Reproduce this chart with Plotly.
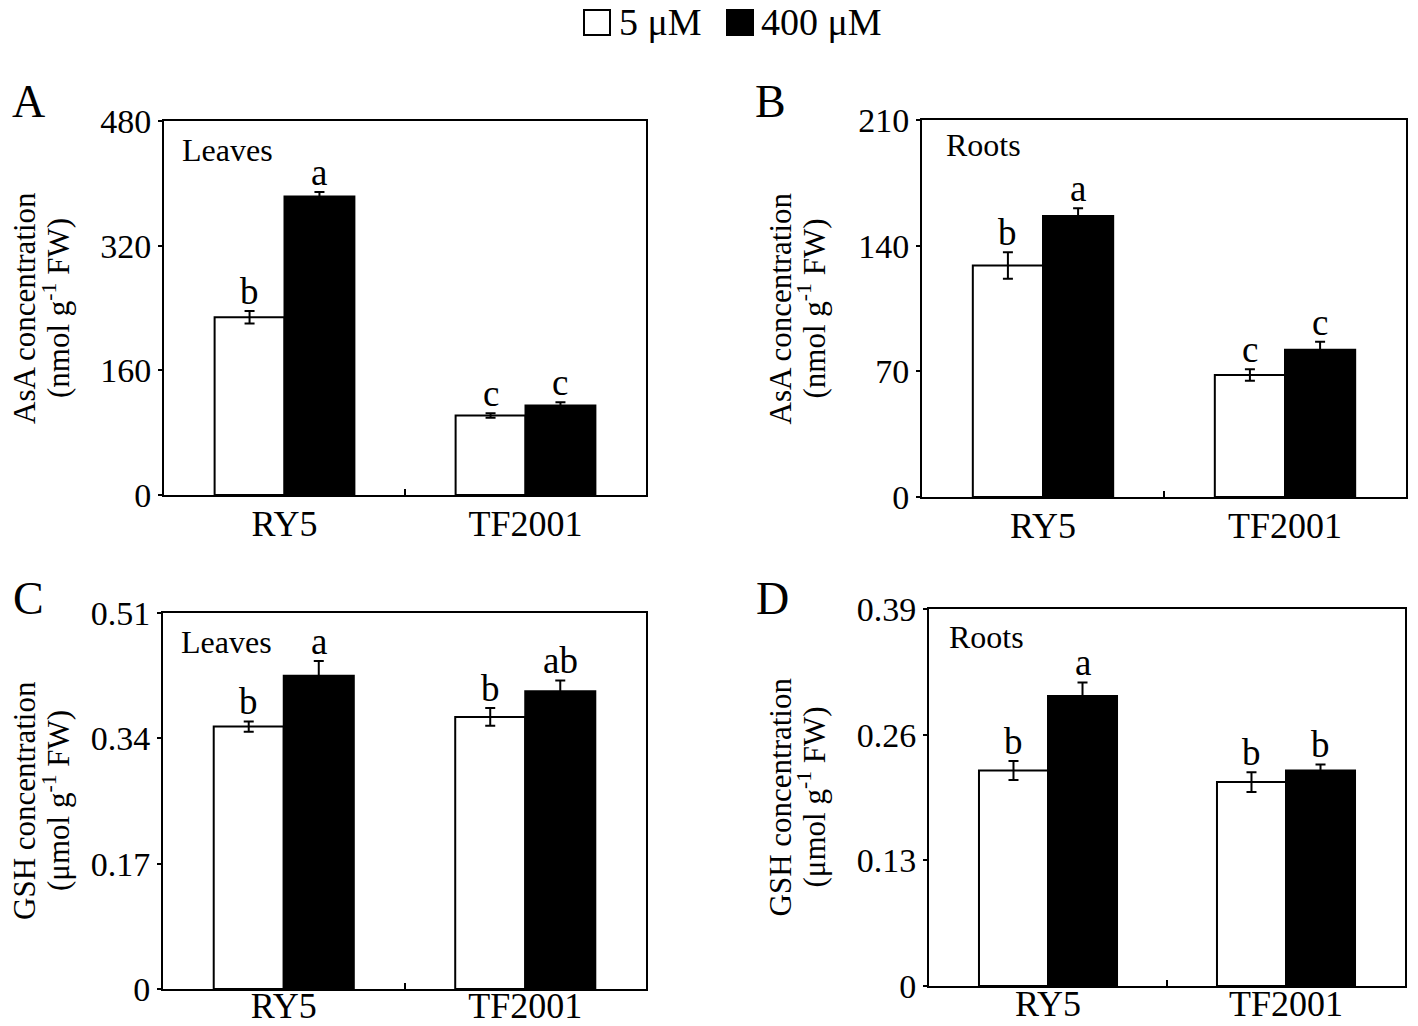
import plotly.graph_objects as go

# page body adds an 8px offset; design in screen pixels and convert
OFF = 8
W, H = 1418 - OFF, 1026 - OFF
FONT = "Liberation Serif"

# ---------------- data ----------------
cultivars = ["RY5", "TF2001"]
series_names = ["5 μM", "400 μM"]

asa_leaves_5 = [228, 102]
asa_leaves_400 = [383, 115]
asa_leaves_err_5 = [8, 3]
asa_leaves_err_400 = [6, 4]
asa_leaves_sig_5 = ["b", "c"]
asa_leaves_sig_400 = ["a", "c"]

asa_roots_5 = [129, 68]
asa_roots_400 = [156.5, 82]
asa_roots_err_5 = [7.4, 3.2]
asa_roots_err_400 = [4.3, 4.5]
asa_roots_sig_5 = ["b", "c"]
asa_roots_sig_400 = ["a", "c"]

gsh_leaves_5 = [0.356, 0.369]
gsh_leaves_400 = [0.425, 0.404]
gsh_leaves_err_5 = [0.007, 0.012]
gsh_leaves_err_400 = [0.020, 0.0145]
gsh_leaves_sig_5 = ["b", "b"]
gsh_leaves_sig_400 = ["a", "ab"]

gsh_roots_5 = [0.223, 0.211]
gsh_roots_400 = [0.300, 0.223]
gsh_roots_err_5 = [0.0098, 0.0102]
gsh_roots_err_400 = [0.014, 0.0062]
gsh_roots_sig_5 = ["b", "b"]
gsh_roots_sig_400 = ["a", "b"]

ticks_A = [0, 160, 320, 480]
ticktext_A = ["0", "160", "320", "480"]
ticks_B = [0, 70, 140, 210]
ticktext_B = ["0", "70", "140", "210"]
ticks_C = [0, 0.17, 0.34, 0.51]
ticktext_C = ["0", "0.17", "0.34", "0.51"]
ticks_D = [0, 0.13, 0.26, 0.39]
ticktext_D = ["0", "0.13", "0.26", "0.39"]

asa_title = ["AsA concentration", "(nmol g<sup>-1</sup> FW)"]
gsh_title = ["GSH concentration", "(μmol g<sup>-1</sup> FW)"]

# ---------------- layout helpers (screen px -> paper) ----------------
def fx(s):
    return (s - OFF) / W

def fy(s):
    return 1 - (s - OFF) / H

def px_dom_x(a, b):
    return [fx(a), fx(b)]

def px_dom_y(top, bottom):
    return [fy(bottom), fy(top)]

panels = [
    dict(key="A", x=px_dom_x(164, 646), y=px_dom_y(121, 495),
         v5=asa_leaves_5, v400=asa_leaves_400, e5=asa_leaves_err_5, e400=asa_leaves_err_400,
         s5=asa_leaves_sig_5, s400=asa_leaves_sig_400, ticks=ticks_A, ticktext=ticktext_A,
         tissue="Leaves", tis_pos=(0.033, 0.922), standoff=-4,
         title=asa_title, title_x=(25, 57), letter_pos=(28, 101)),
    dict(key="B", x=px_dom_x(922, 1406), y=px_dom_y(120, 497),
         v5=asa_roots_5, v400=asa_roots_400, e5=asa_roots_err_5, e400=asa_roots_err_400,
         s5=asa_roots_sig_5, s400=asa_roots_sig_400, ticks=ticks_B, ticktext=ticktext_B,
         tissue="Roots", tis_pos=(0.046, 0.934), standoff=-4,
         title=asa_title, title_x=(780, 812), letter_pos=(771, 101)),
    dict(key="C", x=px_dom_x(163, 646), y=px_dom_y(613, 989),
         v5=gsh_leaves_5, v400=gsh_leaves_400, e5=gsh_leaves_err_5, e400=gsh_leaves_err_400,
         s5=gsh_leaves_sig_5, s400=gsh_leaves_sig_400, ticks=ticks_C, ticktext=ticktext_C,
         tissue="Leaves", tis_pos=(0.033, 0.923), standoff=-16,
         title=gsh_title, title_x=(25, 57), letter_pos=(28, 598)),
    dict(key="D", x=px_dom_x(929, 1405), y=px_dom_y(609, 986),
         v5=gsh_roots_5, v400=gsh_roots_400, e5=gsh_roots_err_5, e400=gsh_roots_err_400,
         s5=gsh_roots_sig_5, s400=gsh_roots_sig_400, ticks=ticks_D, ticktext=ticktext_D,
         tissue="Roots", tis_pos=(0.038, 0.926), standoff=-15,
         title=gsh_title, title_x=(780, 812), letter_pos=(772, 598)),
]

BAR_W = 0.29
fig = go.Figure()
annotations = []
layout = dict(
    template="none",
    width=W, height=H,
    autosize=False,
    margin=dict(l=0, r=0, t=0, b=0, pad=0),
    paper_bgcolor="white", plot_bgcolor="white",
    showlegend=False,
    font=dict(family=FONT, color="black"),
)

xpos = list(range(len(cultivars)))

for i, p in enumerate(panels):
    n = "" if i == 0 else str(i + 1)
    xa, ya = "x" + n, "y" + n
    fig.add_trace(go.Bar(
        x=xpos, y=p["v5"], width=BAR_W, offset=-BAR_W, name=series_names[0],
        marker=dict(color="white", line=dict(color="black", width=2)),
        error_y=dict(type="data", array=p["e5"], visible=True, color="black", thickness=2, width=5),
        xaxis=xa, yaxis=ya,
    ))
    fig.add_trace(go.Bar(
        x=xpos, y=p["v400"], width=BAR_W, offset=0, name=series_names[1],
        marker=dict(color="black", line=dict(color="black", width=2)),
        error_y=dict(type="data", array=p["e400"], visible=True, color="black", thickness=2, width=5),
        xaxis=xa, yaxis=ya,
    ))
    layout["xaxis" + n] = dict(
        domain=p["x"], anchor=ya, range=[-0.5, 1.5], automargin=False,
        tickmode="array", tickvals=xpos, ticktext=cultivars, ticks="",
        ticklabelstandoff=p["standoff"],
        tickfont=dict(family=FONT, size=36, color="black"),
        showline=True, linecolor="black", linewidth=2, mirror=True,
        showgrid=False, zeroline=False, fixedrange=True,
        minor=dict(tickmode="array", tickvals=[0.5], ticks="inside", ticklen=6,
                   tickwidth=2, tickcolor="black", showgrid=False),
    )
    layout["yaxis" + n] = dict(
        domain=p["y"], anchor=xa, range=[0, p["ticks"][-1]], automargin=False,
        tickmode="array", tickvals=p["ticks"], ticktext=p["ticktext"],
        ticks="outside", ticklen=4, tickwidth=1.5, tickcolor="black",
        tickfont=dict(family=FONT, size=34, color="black"),
        showline=True, linecolor="black", linewidth=2, mirror=True,
        showgrid=False, zeroline=False, fixedrange=True,
    )
    # significance letters
    for j in xpos:
        annotations.append(dict(
            x=j - BAR_W / 2, y=p["v5"][j] + p["e5"][j], xref=xa, yref=ya,
            text=p["s5"][j], showarrow=False, yanchor="bottom", xanchor="center",
            font=dict(family=FONT, size=37, color="black"), yshift=-3))
        annotations.append(dict(
            x=j + BAR_W / 2, y=p["v400"][j] + p["e400"][j], xref=xa, yref=ya,
            text=p["s400"][j], showarrow=False, yanchor="bottom", xanchor="center",
            font=dict(family=FONT, size=37, color="black"), yshift=-3))
    # tissue label
    annotations.append(dict(
        x=p["tis_pos"][0], y=p["tis_pos"][1], xref=xa + " domain", yref=ya + " domain",
        text=p["tissue"], showarrow=False, xanchor="left", yanchor="middle",
        font=dict(family=FONT, size=32, color="black")))
    # y title (two rotated lines)
    yc = (p["y"][0] + p["y"][1]) / 2
    for line_text, lx in zip(p["title"], p["title_x"]):
        annotations.append(dict(
            x=fx(lx), y=yc, xref="paper", yref="paper",
            text=line_text, showarrow=False, textangle=-90, borderpad=0,
            xanchor="center", yanchor="middle",
            font=dict(family=FONT, size=31, color="black")))
    # panel letter
    annotations.append(dict(
        x=fx(p["letter_pos"][0]), y=fy(p["letter_pos"][1]), xref="paper", yref="paper",
        text=p["key"], showarrow=False, xanchor="center", yanchor="middle",
        font=dict(family=FONT, size=46, color="black")))

# legend (key at top)
LEG_TOP, LEG_BOT, LEG_MID = 10, 35, 22
shapes = [
    dict(type="rect", xref="paper", yref="paper",
         x0=fx(584), x1=fx(610), y0=fy(LEG_BOT), y1=fy(LEG_TOP),
         fillcolor="white", line=dict(color="black", width=2)),
    dict(type="rect", xref="paper", yref="paper",
         x0=fx(727), x1=fx(753), y0=fy(LEG_BOT), y1=fy(LEG_TOP),
         fillcolor="black", line=dict(color="black", width=2)),
]
annotations.append(dict(x=fx(617), y=fy(LEG_MID), xref="paper", yref="paper",
                        text=series_names[0], showarrow=False, xanchor="left", yanchor="middle",
                        font=dict(family=FONT, size=38, color="black")))
annotations.append(dict(x=fx(759), y=fy(LEG_MID), xref="paper", yref="paper",
                        text=series_names[1], showarrow=False, xanchor="left", yanchor="middle",
                        font=dict(family=FONT, size=38, color="black")))

layout["annotations"] = annotations
layout["shapes"] = shapes
fig.update_layout(**layout)
fig.write_html("out.html", config={"responsive": False})
